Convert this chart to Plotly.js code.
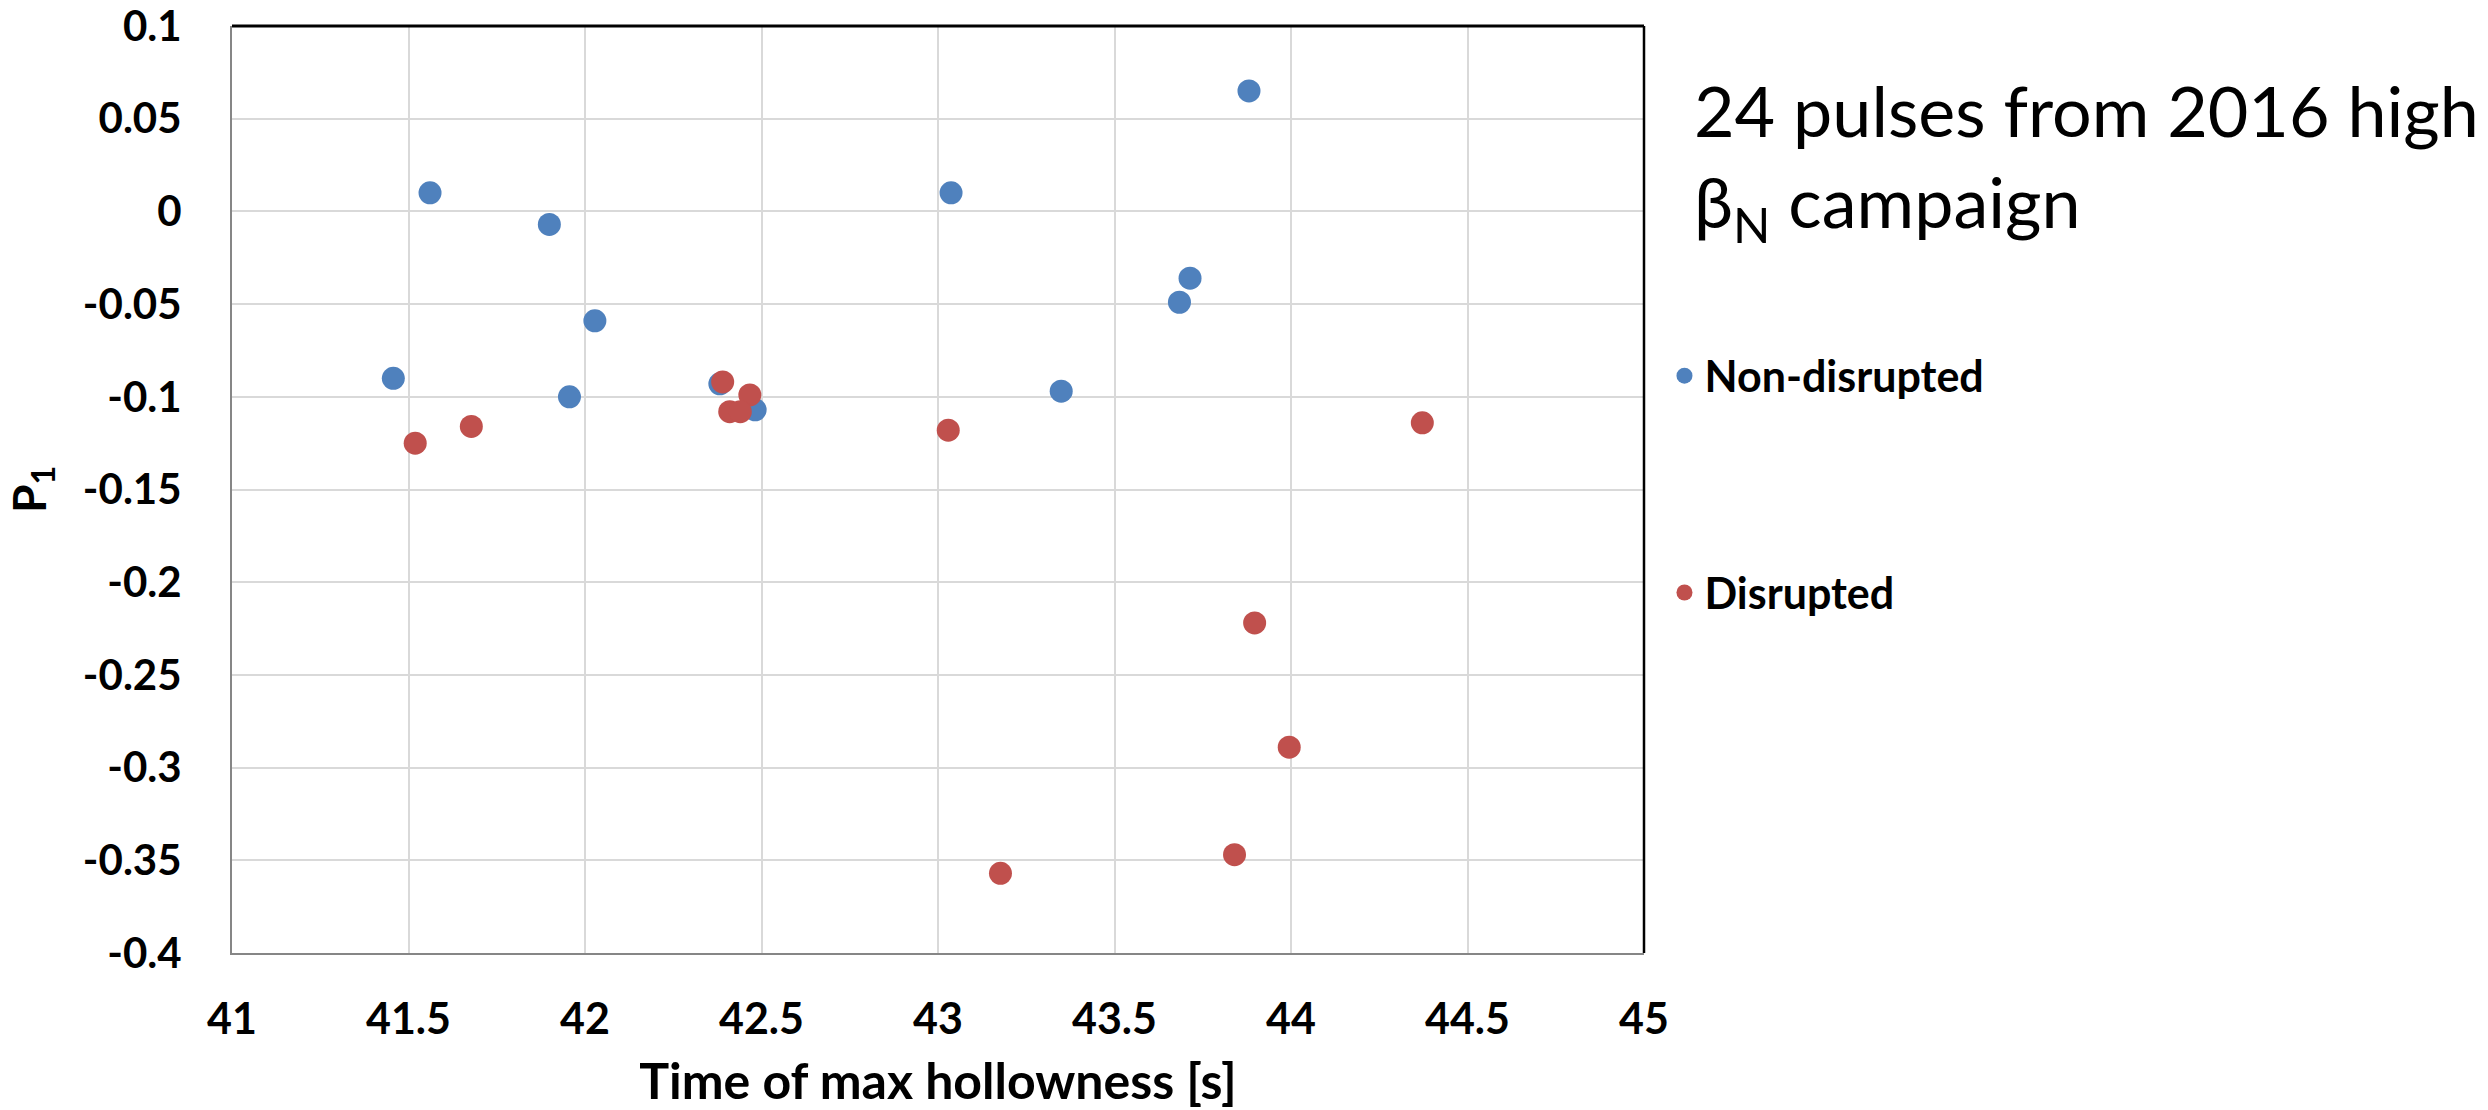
<!DOCTYPE html>
<html>
<head>
<meta charset="utf-8">
<script src="https://cdn.plot.ly/plotly-3.0.1.min.js"></script>
<style>html,body{margin:0;padding:0;background:#fff;}#chart{width:2488px;height:1110px;}</style>
</head>
<body>
<div id="chart"></div>
<script>
// Non-disrupted pulses
const nonDisruptedTime = [41.561, 41.899, 42.028, 41.457, 41.956, 42.382, 42.482, 43.881, 43.037, 43.714, 43.684, 43.349];
const nonDisruptedP1   = [0.010, -0.007, -0.059, -0.090, -0.100, -0.093, -0.107, 0.065, 0.010, -0.036, -0.049, -0.097];
// Disrupted pulses
const disruptedTime = [42.390, 42.467, 42.410, 42.440, 41.678, 41.519, 43.029, 44.372, 43.897, 43.995, 43.840, 43.177];
const disruptedP1   = [-0.092, -0.099, -0.108, -0.108, -0.116, -0.125, -0.118, -0.114, -0.222, -0.289, -0.347, -0.357];

const xTickVals = [41, 41.5, 42, 42.5, 43, 43.5, 44, 44.5, 45];
const xTickText = ["41", "41.5", "42", "42.5", "43", "43.5", "44", "44.5", "45"];
const yTickVals = [0.1, 0.05, 0, -0.05, -0.1, -0.15, -0.2, -0.25, -0.3, -0.35, -0.4];
const yTickText = ["0.1", "0.05", "0", "-0.05", "-0.1", "-0.15", "-0.2", "-0.25", "-0.3", "-0.35", "-0.4"];

const seriesNames = ["Non-disrupted", "Disrupted"];
const annotationText = "24 pulses from 2016 high<br>β<sub>N</sub> campaign";

const FONT = "Lato, 'Liberation Sans', Arial, sans-serif";

const traces = [
  {
    type: "scatter", mode: "markers", name: seriesNames[0], legendgroup: "a",
    x: nonDisruptedTime, y: nonDisruptedP1,
    marker: {color: "#4F81BD", size: 23, line: {width: 0}}
  },
  {
    type: "scatter", mode: "markers", name: seriesNames[1], legendgroup: "b",
    x: disruptedTime, y: disruptedP1,
    marker: {color: "#C0504D", size: 23, line: {width: 0}}
  }
];

const layout = {
  width: 2488, height: 1110,
  margin: {l: 232, r: 844, t: 26, b: 157, pad: 0},
  paper_bgcolor: "#ffffff", plot_bgcolor: "#ffffff",
  font: {family: FONT, color: "#000"},
  showlegend: true,
  legend: {
    x: 1.0145, xanchor: "left", y: 0.66, yanchor: "top",
    traceorder: "grouped", tracegroupgap: 158,
    font: {family: FONT, size: 43, color: "#000", weight: "bold"},
    bgcolor: "rgba(0,0,0,0)", borderwidth: 0
  },
  xaxis: {
    range: [41, 45], tickmode: "array", tickvals: xTickVals, ticktext: xTickText,
    showgrid: true, gridcolor: "#D9D9D9", gridwidth: 2,
    zeroline: false, showline: true, linecolor: "#868686", linewidth: 2,
    ticks: "", ticklabelstandoff: 27, ticklabeloverflow: "allow",
    tickfont: {family: FONT, size: 43, color: "#000", weight: "bold"},
    title: {text: "Time of max hollowness [s]", font: {family: FONT, size: 50, color: "#000", weight: "bold"}, standoff: 26}
  },
  yaxis: {
    range: [-0.4, 0.1], tickmode: "array", tickvals: yTickVals, ticktext: yTickText,
    showgrid: true, gridcolor: "#D9D9D9", gridwidth: 2,
    zeroline: false, showline: true, linecolor: "#868686", linewidth: 2,
    ticks: "", ticklabelstandoff: 40, ticklabeloverflow: "allow",
    tickfont: {family: FONT, size: 42, color: "#000", weight: "bold"},
    title: {text: "P<sub>1</sub>", font: {family: FONT, size: 46, color: "#000", weight: "bold"}, standoff: 22}
  },
  shapes: [
    {type: "line", xref: "paper", yref: "paper", x0: 0, x1: 1, y0: 1, y1: 1, line: {color: "#000", width: 3}},
    {type: "line", xref: "paper", yref: "paper", x0: 1, x1: 1, y0: 0, y1: 1, line: {color: "#000", width: 2.5}}
  ],
  annotations: [
    {
      xref: "paper", yref: "paper", x: 1.034, y: 0.957, xanchor: "left", yanchor: "top",
      align: "left", showarrow: false, text: annotationText,
      font: {family: FONT, size: 70, color: "#000"}
    }
  ]
};

Plotly.newPlot("chart", traces, layout, {displayModeBar: false, staticPlot: true});
</script>
</body>
</html>
